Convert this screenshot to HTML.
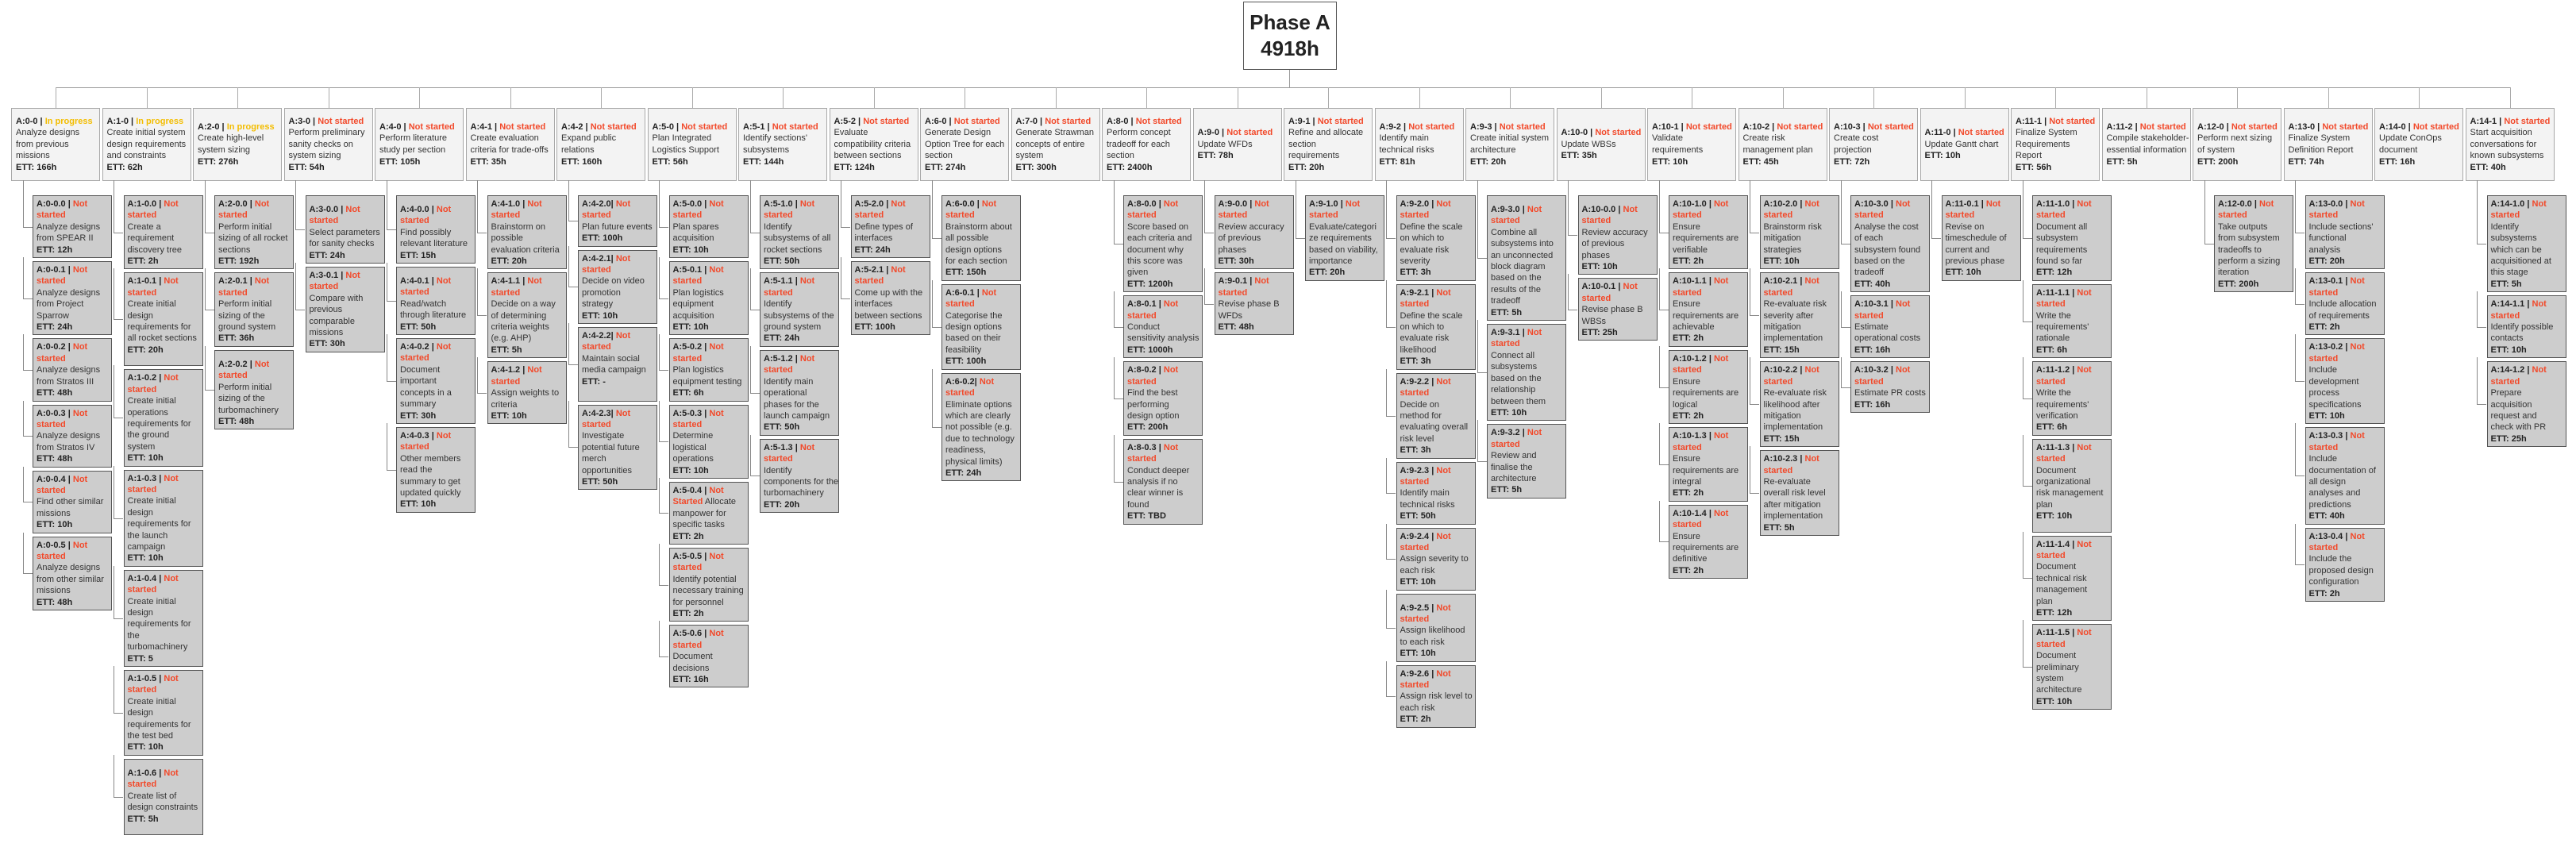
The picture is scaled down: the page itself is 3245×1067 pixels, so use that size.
<!DOCTYPE html>
<html><head><meta charset="utf-8"><style>
body{margin:0;width:3245px;height:1067px;background:#fff;position:relative;overflow:hidden;font-family:"Liberation Sans",Arial,sans-serif;font-size:11px;line-height:14.4px;color:#333}
b{color:#222}
.r{color:#f2492a}.y{color:#f3bd00}
.root{position:absolute;left:1566px;top:2px;width:116px;height:84px;border:1.5px solid #555;background:#fff;display:flex;align-items:center;justify-content:center;text-align:center;font-weight:bold;font-size:26px;line-height:33px;color:#222}
.hl{position:absolute;top:110px;left:70px;width:3092px;height:1px;background:#999}
.rs{position:absolute;left:1624px;top:88px;width:1px;height:22px;background:#999}
.c{position:absolute;top:136px;width:112px}
.c::before{content:"";position:absolute;left:56px;top:-26px;width:1px;height:26px;background:#aaa}
.p{box-sizing:border-box;height:92px;background:#f3f3f3;border:1px solid #a8a8a8;padding:0 5px;display:flex;align-items:center;white-space:nowrap;line-height:14.6px}
.k{margin-left:27px;margin-top:18px;width:100px;display:flex;flex-direction:column;gap:4px}
.n{position:relative;box-sizing:border-box;width:100px;background:#cdcdcd;border:1.5px solid #555;padding:3px 4px 2px 4px;white-space:nowrap}
.n::before{content:"";position:absolute;left:-13.5px;top:50%;width:12px;height:1px;background:#888}
.n::after{content:"";position:absolute;left:-13.5px;top:-6px;width:1px;height:calc(50% + 6px);background:#888}
.n:first-child::after{top:-20px;height:calc(50% + 20px)}
.xt{padding-top:10px}.xb{padding-bottom:12px}
</style></head><body>
<div class="root">Phase A<br>4918h</div>
<div class="rs"></div>
<div class="hl"></div>

<div class="c" style="left:14px"><div class="p"><div><b>A:0-0 | <span class="y">In progress</span></b><br>Analyze designs<br>from previous<br>missions<br><b>ETT: 166h</b></div></div><div class="k">
<div class="n"><b>A:0-0.0 | <span class="r">Not<br>started</span></b><br>Analyze designs<br>from SPEAR II<br><b>ETT: 12h</b></div>
<div class="n"><b>A:0-0.1 | <span class="r">Not<br>started</span></b><br>Analyze designs<br>from Project<br>Sparrow<br><b>ETT: 24h</b></div>
<div class="n"><b>A:0-0.2 | <span class="r">Not<br>started</span></b><br>Analyze designs<br>from Stratos III<br><b>ETT: 48h</b></div>
<div class="n"><b>A:0-0.3 | <span class="r">Not<br>started</span></b><br>Analyze designs<br>from Stratos IV<br><b>ETT: 48h</b></div>
<div class="n"><b>A:0-0.4 | <span class="r">Not<br>started</span></b><br>Find other similar<br>missions<br><b>ETT: 10h</b></div>
<div class="n"><b>A:0-0.5 | <span class="r">Not<br>started</span></b><br>Analyze designs<br>from other similar<br>missions<br><b>ETT: 48h</b></div>
</div></div>

<div class="c" style="left:128.5px"><div class="p"><div><b>A:1-0 | <span class="y">In progress</span></b><br>Create initial system<br>design requirements<br>and constraints<br><b>ETT: 62h</b></div></div><div class="k">
<div class="n"><b>A:1-0.0 | <span class="r">Not<br>started</span></b><br>Create a<br>requirement<br>discovery tree<br><b>ETT: 2h</b></div>
<div class="n xb"><b>A:1-0.1 | <span class="r">Not<br>started</span></b><br>Create initial<br>design<br>requirements for<br>all rocket sections<br><b>ETT: 20h</b></div>
<div class="n"><b>A:1-0.2 | <span class="r">Not<br>started</span></b><br>Create initial<br>operations<br>requirements for<br>the ground<br>system<br><b>ETT: 10h</b></div>
<div class="n"><b>A:1-0.3 | <span class="r">Not<br>started</span></b><br>Create initial<br>design<br>requirements for<br>the launch<br>campaign<br><b>ETT: 10h</b></div>
<div class="n"><b>A:1-0.4 | <span class="r">Not<br>started</span></b><br>Create initial<br>design<br>requirements for<br>the<br>turbomachinery<br><b>ETT: 5</b></div>
<div class="n"><b>A:1-0.5 | <span class="r">Not<br>started</span></b><br>Create initial<br>design<br>requirements for<br>the test bed<br><b>ETT: 10h</b></div>
<div class="n xt xb"><b>A:1-0.6 | <span class="r">Not<br>started</span></b><br>Create list of<br>design constraints<br><b>ETT: 5h</b></div>
</div></div>

<div class="c" style="left:243px"><div class="p"><div><b>A:2-0 | <span class="y">In progress</span></b><br>Create high-level<br>system sizing<br><b>ETT: 276h</b></div></div><div class="k">
<div class="n"><b>A:2-0.0 | <span class="r">Not<br>started</span></b><br>Perform initial<br>sizing of all rocket<br>sections<br><b>ETT: 192h</b></div>
<div class="n"><b>A:2-0.1 | <span class="r">Not<br>started</span></b><br>Perform initial<br>sizing of the<br>ground system<br><b>ETT: 36h</b></div>
<div class="n xt"><b>A:2-0.2 | <span class="r">Not<br>started</span></b><br>Perform initial<br>sizing of the<br>turbomachinery<br><b>ETT: 48h</b></div>
</div></div>

<div class="c" style="left:357.5px"><div class="p"><div><b>A:3-0 | <span class="r">Not started</span></b><br>Perform preliminary<br>sanity checks on<br>system sizing<br><b>ETT: 54h</b></div></div><div class="k">
<div class="n xt"><b>A:3-0.0 | <span class="r">Not<br>started</span></b><br>Select parameters<br>for sanity checks<br><b>ETT: 24h</b></div>
<div class="n"><b>A:3-0.1 | <span class="r">Not<br>started</span></b><br>Compare with<br>previous<br>comparable<br>missions<br><b>ETT: 30h</b></div>
</div></div>

<div class="c" style="left:472px"><div class="p"><div><b>A:4-0 | <span class="r">Not started</span></b><br>Perform literature<br>study per section<br><b>ETT: 105h</b></div></div><div class="k">
<div class="n xt"><b>A:4-0.0 | <span class="r">Not<br>started</span></b><br>Find possibly<br>relevant literature<br><b>ETT: 15h</b></div>
<div class="n xt"><b>A:4-0.1 | <span class="r">Not<br>started</span></b><br>Read/watch<br>through literature<br><b>ETT: 50h</b></div>
<div class="n"><b>A:4-0.2 | <span class="r">Not<br>started</span></b><br>Document<br>important<br>concepts in a<br>summary<br><b>ETT: 30h</b></div>
<div class="n"><b>A:4-0.3 | <span class="r">Not<br>started</span></b><br>Other members<br>read the<br>summary to get<br>updated quickly<br><b>ETT: 10h</b></div>
</div></div>

<div class="c" style="left:586.5px"><div class="p"><div><b>A:4-1 | <span class="r">Not started</span></b><br>Create evaluation<br>criteria for trade-offs<br><b>ETT: 35h</b></div></div><div class="k">
<div class="n"><b>A:4-1.0 | <span class="r">Not<br>started</span></b><br>Brainstorm on<br>possible<br>evaluation criteria<br><b>ETT: 20h</b></div>
<div class="n"><b>A:4-1.1 | <span class="r">Not<br>started</span></b><br>Decide on a way<br>of determining<br>criteria weights<br>(e.g. AHP)<br><b>ETT: 5h</b></div>
<div class="n"><b>A:4-1.2 | <span class="r">Not<br>started</span></b><br>Assign weights to<br>criteria<br><b>ETT: 10h</b></div>
</div></div>

<div class="c" style="left:701px"><div class="p"><div><b>A:4-2 | <span class="r">Not started</span></b><br>Expand public<br>relations<br><b>ETT: 160h</b></div></div><div class="k">
<div class="n"><b>A:4-2.0| <span class="r">Not<br>started</span></b><br>Plan future events<br><b>ETT: 100h</b></div>
<div class="n"><b>A:4-2.1| <span class="r">Not<br>started</span></b><br>Decide on video<br>promotion<br>strategy<br><b>ETT: 10h</b></div>
<div class="n"><b>A:4-2.2| <span class="r">Not<br>started</span></b><br>Maintain social<br>media campaign<br><b>ETT: -</b><br>&nbsp;</div>
<div class="n"><b>A:4-2.3| <span class="r">Not<br>started</span></b><br>Investigate<br>potential future<br>merch<br>opportunities<br><b>ETT: 50h</b></div>
</div></div>

<div class="c" style="left:815.5px"><div class="p"><div><b>A:5-0 | <span class="r">Not started</span></b><br>Plan Integrated<br>Logistics Support<br><b>ETT: 56h</b></div></div><div class="k">
<div class="n"><b>A:5-0.0 | <span class="r">Not<br>started</span></b><br>Plan spares<br>acquisition<br><b>ETT: 10h</b></div>
<div class="n"><b>A:5-0.1 | <span class="r">Not<br>started</span></b><br>Plan logistics<br>equipment<br>acquisition<br><b>ETT: 10h</b></div>
<div class="n"><b>A:5-0.2 | <span class="r">Not<br>started</span></b><br>Plan logistics<br>equipment testing<br><b>ETT: 6h</b></div>
<div class="n"><b>A:5-0.3 | <span class="r">Not<br>started</span></b><br>Determine<br>logistical<br>operations<br><b>ETT: 10h</b></div>
<div class="n"><b>A:5-0.4 | <span class="r">Not<br>Started</span></b> Allocate<br>manpower for<br>specific tasks<br><b>ETT: 2h</b></div>
<div class="n"><b>A:5-0.5 | <span class="r">Not<br>started</span></b><br>Identify potential<br>necessary training<br>for personnel<br><b>ETT: 2h</b></div>
<div class="n"><b>A:5-0.6 | <span class="r">Not<br>started</span></b><br>Document<br>decisions<br><b>ETT: 16h</b></div>
</div></div>

<div class="c" style="left:930px"><div class="p"><div><b>A:5-1 | <span class="r">Not started</span></b><br>Identify sections'<br>subsystems<br><b>ETT: 144h</b></div></div><div class="k">
<div class="n"><b>A:5-1.0 | <span class="r">Not<br>started</span></b><br>Identify<br>subsystems of all<br>rocket sections<br><b>ETT: 50h</b></div>
<div class="n"><b>A:5-1.1 | <span class="r">Not<br>started</span></b><br>Identify<br>subsystems of the<br>ground system<br><b>ETT: 24h</b></div>
<div class="n"><b>A:5-1.2 | <span class="r">Not<br>started</span></b><br>Identify main<br>operational<br>phases for the<br>launch campaign<br><b>ETT: 50h</b></div>
<div class="n"><b>A:5-1.3 | <span class="r">Not<br>started</span></b><br>Identify<br>components for the<br>turbomachinery<br><b>ETT: 20h</b></div>
</div></div>

<div class="c" style="left:1044.5px"><div class="p"><div><b>A:5-2 | <span class="r">Not started</span></b><br>Evaluate<br>compatibility criteria<br>between sections<br><b>ETT: 124h</b></div></div><div class="k">
<div class="n"><b>A:5-2.0 | <span class="r">Not<br>started</span></b><br>Define types of<br>interfaces<br><b>ETT: 24h</b></div>
<div class="n"><b>A:5-2.1 | <span class="r">Not<br>started</span></b><br>Come up with the<br>interfaces<br>between sections<br><b>ETT: 100h</b></div>
</div></div>

<div class="c" style="left:1159px"><div class="p"><div><b>A:6-0 | <span class="r">Not started</span></b><br>Generate Design<br>Option Tree for each<br>section<br><b>ETT: 274h</b></div></div><div class="k">
<div class="n"><b>A:6-0.0 | <span class="r">Not<br>started</span></b><br>Brainstorm about<br>all possible<br>design options<br>for each section<br><b>ETT: 150h</b></div>
<div class="n"><b>A:6-0.1 | <span class="r">Not<br>started</span></b><br>Categorise the<br>design options<br>based on their<br>feasibility<br><b>ETT: 100h</b></div>
<div class="n"><b>A:6-0.2| <span class="r">Not<br>started</span></b><br>Eliminate options<br>which are clearly<br>not possible (e.g.<br>due to technology<br>readiness,<br>physical limits)<br><b>ETT: 24h</b></div>
</div></div>

<div class="c" style="left:1273.5px"><div class="p"><div><b>A:7-0 | <span class="r">Not started</span></b><br>Generate Strawman<br>concepts of entire<br>system<br><b>ETT: 300h</b></div></div></div>

<div class="c" style="left:1388px"><div class="p"><div><b>A:8-0 | <span class="r">Not started</span></b><br>Perform concept<br>tradeoff for each<br>section<br><b>ETT: 2400h</b></div></div><div class="k">
<div class="n"><b>A:8-0.0 | <span class="r">Not<br>started</span></b><br>Score based on<br>each criteria and<br>document why<br>this score was<br>given<br><b>ETT: 1200h</b></div>
<div class="n"><b>A:8-0.1 | <span class="r">Not<br>started</span></b><br>Conduct<br>sensitivity analysis<br><b>ETT: 1000h</b></div>
<div class="n"><b>A:8-0.2 | <span class="r">Not<br>started</span></b><br>Find the best<br>performing<br>design option<br><b>ETT: 200h</b></div>
<div class="n"><b>A:8-0.3 | <span class="r">Not<br>started</span></b><br>Conduct deeper<br>analysis if no<br>clear winner is<br>found<br><b>ETT: TBD</b></div>
</div></div>

<div class="c" style="left:1502.5px"><div class="p"><div><b>A:9-0 | <span class="r">Not started</span></b><br>Update WFDs<br><b>ETT: 78h</b></div></div><div class="k">
<div class="n"><b>A:9-0.0 | <span class="r">Not<br>started</span></b><br>Review accuracy<br>of previous<br>phases<br><b>ETT: 30h</b></div>
<div class="n"><b>A:9-0.1 | <span class="r">Not<br>started</span></b><br>Revise phase B<br>WFDs<br><b>ETT: 48h</b></div>
</div></div>

<div class="c" style="left:1617px"><div class="p"><div><b>A:9-1 | <span class="r">Not started</span></b><br>Refine and allocate<br>section<br>requirements<br><b>ETT: 20h</b></div></div><div class="k">
<div class="n"><b>A:9-1.0 | <span class="r">Not<br>started</span></b><br>Evaluate/categori<br>ze requirements<br>based on viability,<br>importance<br><b>ETT: 20h</b></div>
</div></div>

<div class="c" style="left:1731.5px"><div class="p"><div><b>A:9-2 | <span class="r">Not started</span></b><br>Identify main<br>technical risks<br><b>ETT: 81h</b></div></div><div class="k">
<div class="n"><b>A:9-2.0 | <span class="r">Not<br>started</span></b><br>Define the scale<br>on which to<br>evaluate risk<br>severity<br><b>ETT: 3h</b></div>
<div class="n"><b>A:9-2.1 | <span class="r">Not<br>started</span></b><br>Define the scale<br>on which to<br>evaluate risk<br>likelihood<br><b>ETT: 3h</b></div>
<div class="n"><b>A:9-2.2 | <span class="r">Not<br>started</span></b><br>Decide on<br>method for<br>evaluating overall<br>risk level<br><b>ETT: 3h</b></div>
<div class="n"><b>A:9-2.3 | <span class="r">Not<br>started</span></b><br>Identify main<br>technical risks<br><b>ETT: 50h</b></div>
<div class="n"><b>A:9-2.4 | <span class="r">Not<br>started</span></b><br>Assign severity to<br>each risk<br><b>ETT: 10h</b></div>
<div class="n xt"><b>A:9-2.5 | <span class="r">Not<br>started</span></b><br>Assign likelihood<br>to each risk<br><b>ETT: 10h</b></div>
<div class="n"><b>A:9-2.6 | <span class="r">Not<br>started</span></b><br>Assign risk level to<br>each risk<br><b>ETT: 2h</b></div>
</div></div>

<div class="c" style="left:1846px"><div class="p"><div><b>A:9-3 | <span class="r">Not started</span></b><br>Create initial system<br>architecture<br><b>ETT: 20h</b></div></div><div class="k">
<div class="n xt"><b>A:9-3.0 | <span class="r">Not<br>started</span></b><br>Combine all<br>subsystems into<br>an unconnected<br>block diagram<br>based on the<br>results of the<br>tradeoff<br><b>ETT: 5h</b></div>
<div class="n"><b>A:9-3.1 | <span class="r">Not<br>started</span></b><br>Connect all<br>subsystems<br>based on the<br>relationship<br>between them<br><b>ETT: 10h</b></div>
<div class="n"><b>A:9-3.2 | <span class="r">Not<br>started</span></b><br>Review and<br>finalise the<br>architecture<br><b>ETT: 5h</b></div>
</div></div>

<div class="c" style="left:1960.5px"><div class="p"><div><b>A:10-0 | <span class="r">Not started</span></b><br>Update WBSs<br><b>ETT: 35h</b></div></div><div class="k">
<div class="n xt"><b>A:10-0.0 | <span class="r">Not<br>started</span></b><br>Review accuracy<br>of previous<br>phases<br><b>ETT: 10h</b></div>
<div class="n"><b>A:10-0.1 | <span class="r">Not<br>started</span></b><br>Revise phase B<br>WBSs<br><b>ETT: 25h</b></div>
</div></div>

<div class="c" style="left:2075px"><div class="p"><div><b>A:10-1 | <span class="r">Not started</span></b><br>Validate<br>requirements<br><b>ETT: 10h</b></div></div><div class="k">
<div class="n"><b>A:10-1.0 | <span class="r">Not<br>started</span></b><br>Ensure<br>requirements are<br>verifiable<br><b>ETT: 2h</b></div>
<div class="n"><b>A:10-1.1 | <span class="r">Not<br>started</span></b><br>Ensure<br>requirements are<br>achievable<br><b>ETT: 2h</b></div>
<div class="n"><b>A:10-1.2 | <span class="r">Not<br>started</span></b><br>Ensure<br>requirements are<br>logical<br><b>ETT: 2h</b></div>
<div class="n"><b>A:10-1.3 | <span class="r">Not<br>started</span></b><br>Ensure<br>requirements are<br>integral<br><b>ETT: 2h</b></div>
<div class="n"><b>A:10-1.4 | <span class="r">Not<br>started</span></b><br>Ensure<br>requirements are<br>definitive<br><b>ETT: 2h</b></div>
</div></div>

<div class="c" style="left:2189.5px"><div class="p"><div><b>A:10-2 | <span class="r">Not started</span></b><br>Create risk<br>management plan<br><b>ETT: 45h</b></div></div><div class="k">
<div class="n"><b>A:10-2.0 | <span class="r">Not<br>started</span></b><br>Brainstorm risk<br>mitigation<br>strategies<br><b>ETT: 10h</b></div>
<div class="n"><b>A:10-2.1 | <span class="r">Not<br>started</span></b><br>Re-evaluate risk<br>severity after<br>mitigation<br>implementation<br><b>ETT: 15h</b></div>
<div class="n"><b>A:10-2.2 | <span class="r">Not<br>started</span></b><br>Re-evaluate risk<br>likelihood after<br>mitigation<br>implementation<br><b>ETT: 15h</b></div>
<div class="n"><b>A:10-2.3 | <span class="r">Not<br>started</span></b><br>Re-evaluate<br>overall risk level<br>after mitigation<br>implementation<br><b>ETT: 5h</b></div>
</div></div>

<div class="c" style="left:2304px"><div class="p"><div><b>A:10-3 | <span class="r">Not started</span></b><br>Create cost<br>projection<br><b>ETT: 72h</b></div></div><div class="k">
<div class="n"><b>A:10-3.0 | <span class="r">Not<br>started</span></b><br>Analyse the cost<br>of each<br>subsystem found<br>based on the<br>tradeoff<br><b>ETT: 40h</b></div>
<div class="n"><b>A:10-3.1 | <span class="r">Not<br>started</span></b><br>Estimate<br>operational costs<br><b>ETT: 16h</b></div>
<div class="n"><b>A:10-3.2 | <span class="r">Not<br>started</span></b><br>Estimate PR costs<br><b>ETT: 16h</b></div>
</div></div>

<div class="c" style="left:2418.5px"><div class="p"><div><b>A:11-0 | <span class="r">Not started</span></b><br>Update Gantt chart<br><b>ETT: 10h</b></div></div><div class="k">
<div class="n"><b>A:11-0.1 | <span class="r">Not<br>started</span></b><br>Revise on<br>timeschedule of<br>current and<br>previous phase<br><b>ETT: 10h</b></div>
</div></div>

<div class="c" style="left:2533px"><div class="p"><div><b>A:11-1 | <span class="r">Not started</span></b><br>Finalize System<br>Requirements<br>Report<br><b>ETT: 56h</b></div></div><div class="k">
<div class="n"><b>A:11-1.0 | <span class="r">Not<br>started</span></b><br>Document all<br>subsystem<br>requirements<br>found so far<br><b>ETT: 12h</b></div>
<div class="n"><b>A:11-1.1 | <span class="r">Not<br>started</span></b><br>Write the<br>requirements'<br>rationale<br><b>ETT: 6h</b></div>
<div class="n"><b>A:11-1.2 | <span class="r">Not<br>started</span></b><br>Write the<br>requirements'<br>verification<br><b>ETT: 6h</b></div>
<div class="n xb"><b>A:11-1.3 | <span class="r">Not<br>started</span></b><br>Document<br>organizational<br>risk management<br>plan<br><b>ETT: 10h</b></div>
<div class="n"><b>A:11-1.4 | <span class="r">Not<br>started</span></b><br>Document<br>technical risk<br>management<br>plan<br><b>ETT: 12h</b></div>
<div class="n"><b>A:11-1.5 | <span class="r">Not<br>started</span></b><br>Document<br>preliminary<br>system<br>architecture<br><b>ETT: 10h</b></div>
</div></div>

<div class="c" style="left:2647.5px"><div class="p"><div><b>A:11-2 | <span class="r">Not started</span></b><br>Compile stakeholder-<br>essential information<br><b>ETT: 5h</b></div></div></div>

<div class="c" style="left:2762px"><div class="p"><div><b>A:12-0 | <span class="r">Not started</span></b><br>Perform next sizing<br>of system<br><b>ETT: 200h</b></div></div><div class="k">
<div class="n"><b>A:12-0.0 | <span class="r">Not<br>started</span></b><br>Take outputs<br>from subsystem<br>tradeoffs to<br>perform a sizing<br>iteration<br><b>ETT: 200h</b></div>
</div></div>

<div class="c" style="left:2876.5px"><div class="p"><div><b>A:13-0 | <span class="r">Not started</span></b><br>Finalize System<br>Definition Report<br><b>ETT: 74h</b></div></div><div class="k">
<div class="n"><b>A:13-0.0 | <span class="r">Not<br>started</span></b><br>Include sections'<br>functional<br>analysis<br><b>ETT: 20h</b></div>
<div class="n"><b>A:13-0.1 | <span class="r">Not<br>started</span></b><br>Include allocation<br>of requirements<br><b>ETT: 2h</b></div>
<div class="n"><b>A:13-0.2 | <span class="r">Not<br>started</span></b><br>Include<br>development<br>process<br>specifications<br><b>ETT: 10h</b></div>
<div class="n"><b>A:13-0.3 | <span class="r">Not<br>started</span></b><br>Include<br>documentation of<br>all design<br>analyses and<br>predictions<br><b>ETT: 40h</b></div>
<div class="n"><b>A:13-0.4 | <span class="r">Not<br>started</span></b><br>Include the<br>proposed design<br>configuration<br><b>ETT: 2h</b></div>
</div></div>

<div class="c" style="left:2991px"><div class="p"><div><b>A:14-0 | <span class="r">Not started</span></b><br>Update ConOps<br>document<br><b>ETT: 16h</b></div></div></div>

<div class="c" style="left:3105.5px"><div class="p"><div><b>A:14-1 | <span class="r">Not started</span></b><br>Start acquisition<br>conversations for<br>known subsystems<br><b>ETT: 40h</b></div></div><div class="k">
<div class="n"><b>A:14-1.0 | <span class="r">Not<br>started</span></b><br>Identify<br>subsystems<br>which can be<br>acquisitioned at<br>this stage<br><b>ETT: 5h</b></div>
<div class="n"><b>A:14-1.1 | <span class="r">Not<br>started</span></b><br>Identify possible<br>contacts<br><b>ETT: 10h</b></div>
<div class="n"><b>A:14-1.2 | <span class="r">Not<br>started</span></b><br>Prepare<br>acquisition<br>request and<br>check with PR<br><b>ETT: 25h</b></div>
</div></div>

</body></html>
